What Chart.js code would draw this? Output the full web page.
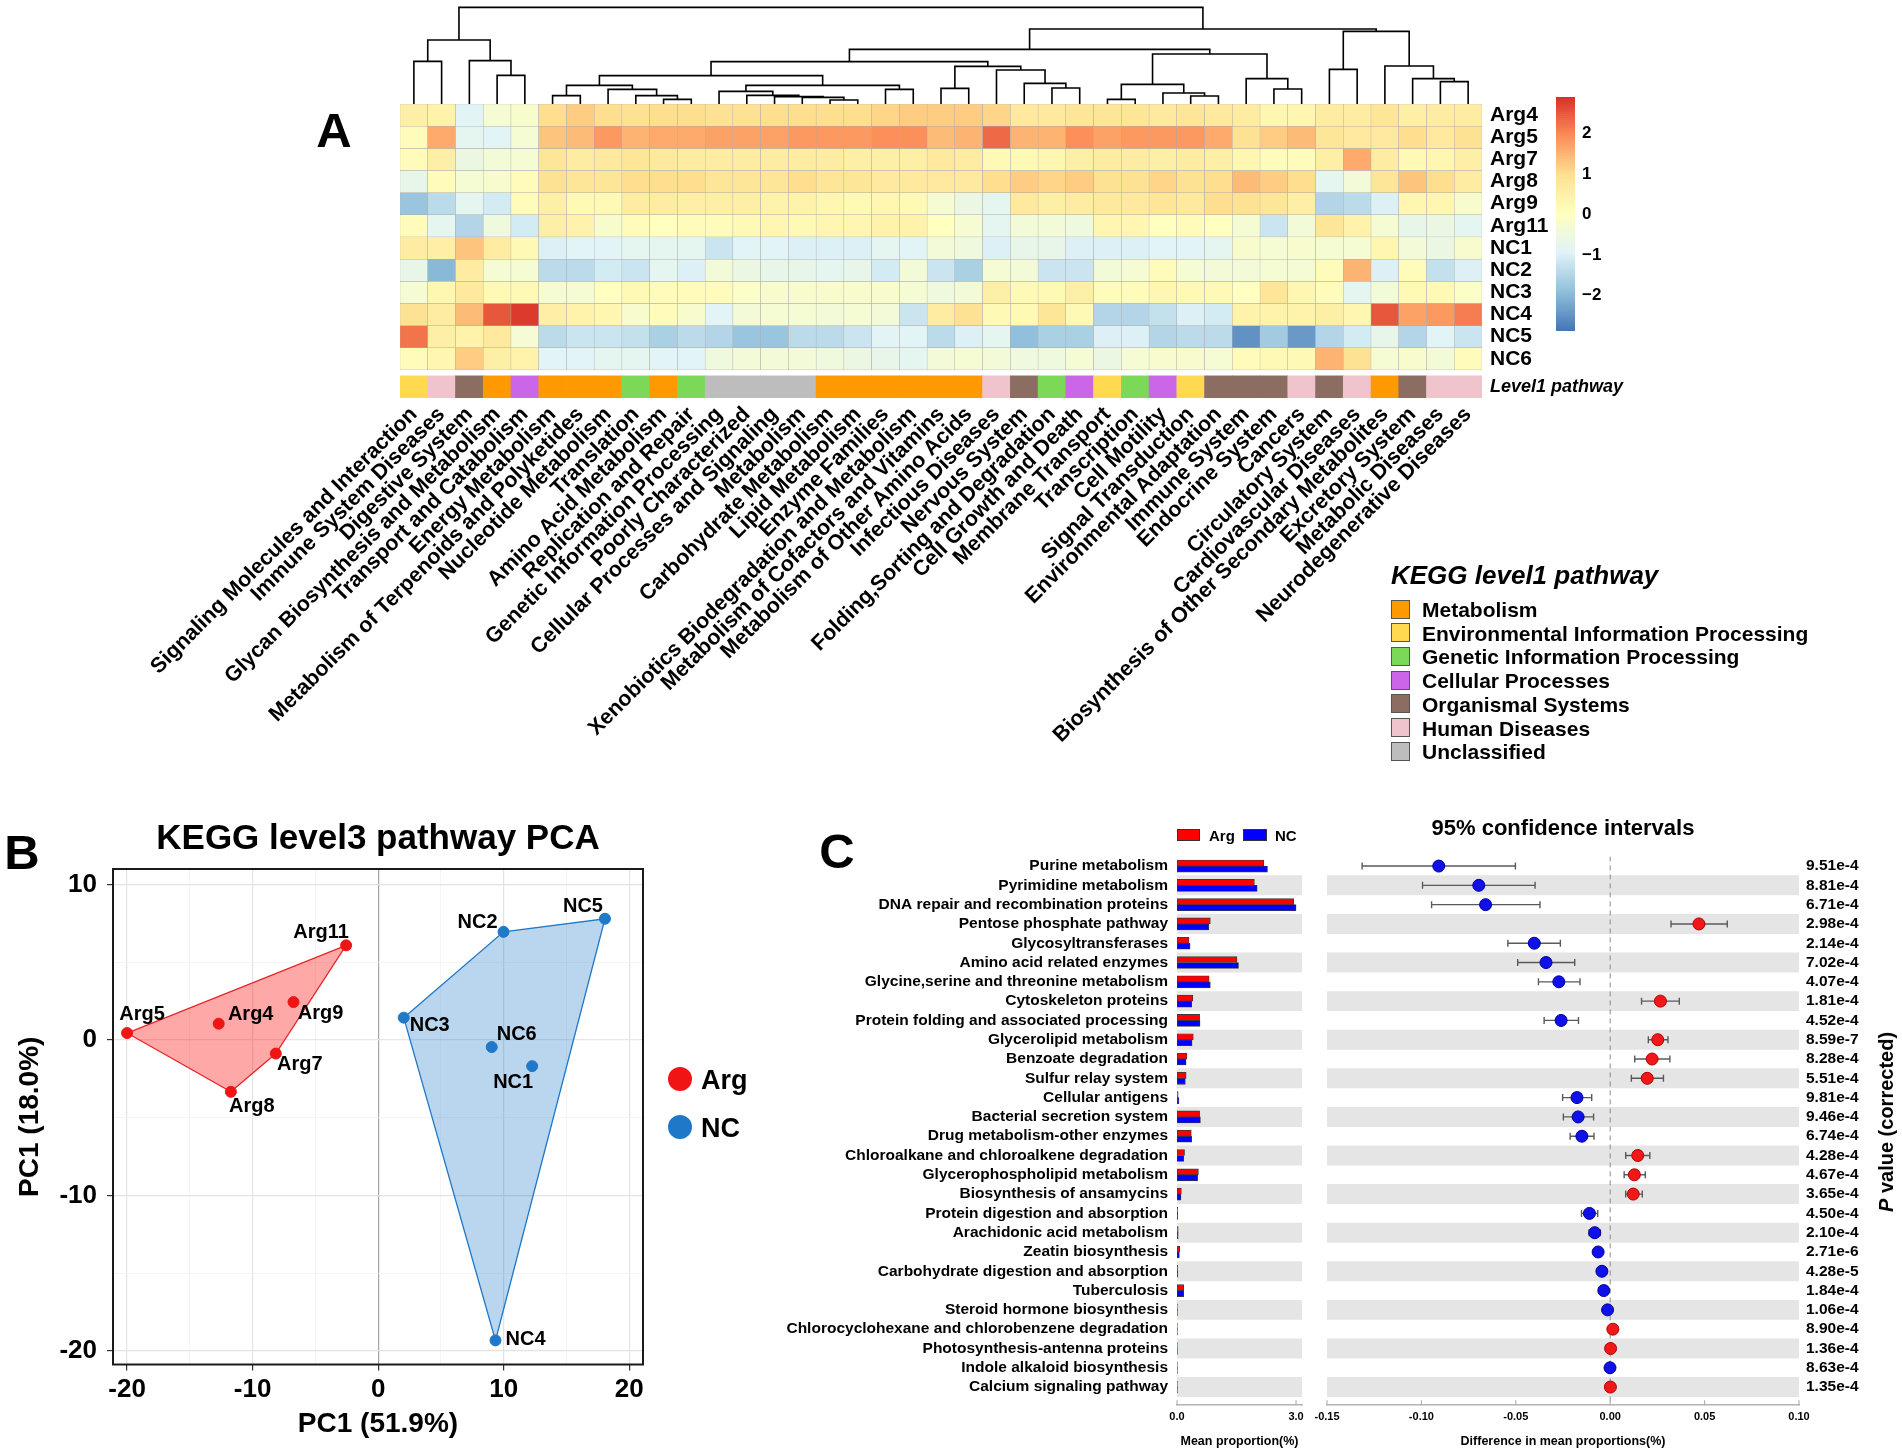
<!DOCTYPE html>
<html>
<head>
<meta charset="utf-8">
<title>KEGG pathway figure</title>
<script src="https://cdn.jsdelivr.net/npm/chart.js@4.4.1/dist/chart.umd.min.js"></script>
<style>
  html, body { margin: 0; padding: 0; background: #fff; }
  #page { position: relative; width: 1902px; height: 1455px; overflow: hidden;
          font-family: "Liberation Sans", Arial, Helvetica, sans-serif; color: #000; }
  #page canvas { position: absolute; left: 0; top: 0; }
  .lbl { position: absolute; font-weight: bold; white-space: nowrap; line-height: 1; }
  .mid { transform: translate(-50%, -50%); }
  .lft { transform: translateY(-50%); }
  .box { position: absolute; box-sizing: border-box; }
</style>
</head>
<body>
<div id="page">
  <canvas id="cDendro" width="1902" height="1455"></canvas>
  <canvas id="cHeat" width="1902" height="1455"></canvas>
  <canvas id="cScale" width="1902" height="1455"></canvas>
  <canvas id="cPca" width="1902" height="1455"></canvas>
  <canvas id="cMean" width="1902" height="1455"></canvas>
  <canvas id="cDiff" width="1902" height="1455"></canvas>

  <div class="lbl mid" style="left:334px;top:130px;font-size:49px;">A</div>
  <div class="lbl mid" style="left:22px;top:852px;font-size:49px;">B</div>
  <div class="lbl mid" style="left:837px;top:851px;font-size:49px;">C</div>

  <div class="lbl lft" style="left:1391px;top:575px;font-size:26px;font-style:italic;">KEGG level1 pathway</div>
  <div id="keggLegend"></div>

  <div class="lbl mid" style="left:378px;top:836px;font-size:35px;">KEGG level3 pathway PCA</div>
  <div class="box" style="left:668px;top:1067px;width:24px;height:24px;border-radius:50%;background:#F01414;"></div>
  <div class="lbl lft" style="left:701px;top:1080px;font-size:27px;">Arg</div>
  <div class="box" style="left:668px;top:1115px;width:24px;height:24px;border-radius:50%;background:#1F78C8;"></div>
  <div class="lbl lft" style="left:701px;top:1128px;font-size:27px;">NC</div>

  <div class="box" style="left:1177px;top:829px;width:23px;height:12px;background:#FF0000;border:1px solid #333;"></div>
  <div class="lbl lft" style="left:1209px;top:835px;font-size:15px;">Arg</div>
  <div class="box" style="left:1243px;top:829px;width:24px;height:12px;background:#0000FF;border:1px solid #333;"></div>
  <div class="lbl lft" style="left:1275px;top:835px;font-size:15px;">NC</div>

  <div class="lbl mid" style="left:1563px;top:828px;font-size:22px;">95% confidence intervals</div>
  <div class="lbl" style="left:1886px;top:1122px;font-size:20px;transform:translate(-50%,-50%) rotate(-90deg);"><i>P</i> value (corrected)</div>
</div>

<script>
// ---------- panel A: heatmap of KEGG level2 pathways ----------
const SAMPLES = ['Arg4', 'Arg5', 'Arg7', 'Arg8', 'Arg9', 'Arg11', 'NC1', 'NC2', 'NC3', 'NC4', 'NC5', 'NC6'];

const PATHWAYS_L2 = [
  'Signaling Molecules and Interaction', 'Immune System Diseases', 'Digestive System',
  'Glycan Biosynthesis and Metabolism', 'Transport and Catabolism', 'Energy Metabolism',
  'Metabolism of Terpenoids and Polyketides', 'Nucleotide Metabolism', 'Translation',
  'Amino Acid Metabolism', 'Replication and Repair', 'Genetic Information Processing',
  'Poorly Characterized', 'Cellular Processes and Signaling', 'Metabolism',
  'Carbohydrate Metabolism', 'Lipid Metabolism', 'Enzyme Families',
  'Xenobiotics Biodegradation and Metabolism', 'Metabolism of Cofactors and Vitamins',
  'Metabolism of Other Amino Acids', 'Infectious Diseases', 'Nervous System',
  'Folding,Sorting and Degradation', 'Cell Growth and Death', 'Membrane Transport',
  'Transcription', 'Cell Motility', 'Signal Transduction', 'Environmental Adaptation',
  'Immune System', 'Endocrine System', 'Cancers', 'Circulatory System',
  'Cardiovascular Diseases', 'Biosynthesis of Other Secondary Metabolites',
  'Excretory System', 'Metabolic Diseases', 'Neurodegenerative Diseases'
];

const L1_NAMES = ['Metabolism', 'Environmental Information Processing', 'Genetic Information Processing',
  'Cellular Processes', 'Organismal Systems', 'Human Diseases', 'Unclassified'];
const L1_COLORS = ['#FF9900', '#FFD94F', '#7BD957', '#CB66E8', '#8C6D61', '#F0C4CC', '#BDBDBD'];
// level1 class of each column (index into L1_NAMES)
const PATHWAY_L1 = [1, 5, 4, 0, 3, 0, 0, 0, 2, 0, 2, 6, 6, 6, 6, 0, 0, 0, 0, 0, 0,
  5, 4, 2, 3, 1, 2, 3, 1, 4, 4, 4, 5, 4, 5, 0, 4, 5, 5];

// row z-scores, one row per sample, columns in PATHWAYS_L2 order
const Z_SCORES = [
  [0.5, 0.4, -0.9, -0.3, -0.2, 1.0, 1.2, 1.0, 0.9, 1.0, 1.0, 0.9, 0.9, 1.0, 1.0, 1.0, 1.0, 1.1, 1.2, 1.2, 1.2, 1.1, 0.7, 0.7, 0.8, 0.8, 0.8, 0.7, 0.8, 0.7, 0.6, 0.3, 0.3, 0.6, 0.6, 0.8, 0.5, 0.6, 0.6],           // Arg4
  [0.1, 1.6, -0.8, -0.9, -0.3, 1.3, 1.4, 1.8, 1.5, 1.6, 1.6, 1.7, 1.7, 1.7, 1.8, 1.8, 1.8, 1.9, 1.9, 1.4, 1.5, 2.3, 1.5, 1.5, 1.9, 1.7, 1.8, 1.8, 1.8, 1.6, 0.9, 1.2, 1.4, 0.8, 0.7, 0.7, 1.0, 0.7, 0.9],            // Arg5
  [0.1, 0.5, -0.6, -0.4, -0.3, 0.8, 0.6, 0.7, 0.8, 0.7, 0.6, 0.6, 0.6, 0.6, 0.6, 0.6, 0.5, 0.5, 0.5, 0.7, 0.6, 0.2, 0.2, 0.3, 0.5, 0.6, 0.6, 0.5, 0.6, 0.5, 0.3, 0.1, 0.1, 0.5, 1.6, 0.6, 0.2, 0.3, 0.5],            // Arg7
  [-0.7, 0.1, -0.3, -0.2, 0.1, 0.9, 0.8, 0.8, 1.0, 1.0, 1.0, 0.8, 0.8, 0.8, 1.0, 0.8, 0.8, 0.7, 0.7, 0.7, 0.7, 1.0, 1.2, 1.1, 1.2, 0.9, 0.9, 1.1, 0.9, 1.0, 1.4, 1.2, 1.0, -0.8, -0.4, 0.8, 1.3, 1.0, 0.6],         // Arg8
  [-1.8, -1.4, -0.8, -1.1, 0.1, 0.5, 0.2, 0.2, 0.6, 0.6, 0.5, 0.5, 0.5, 0.4, 0.4, 0.3, 0.2, 0.3, 0.2, -0.3, -0.6, -0.8, 0.7, 0.5, 0.6, 0.7, 0.7, 0.8, 0.7, 1.0, 0.9, 0.8, 0.5, -1.5, -1.4, -1.0, 0.3, 0.3, -0.2], // Arg9
  [0.1, -0.8, -1.5, -0.5, -1.1, 0.5, 0.4, -0.2, 0.1, 0.0, 0.1, 0.1, 0.2, 0.3, 0.2, 0.3, 0.3, 0.4, 0.4, 0.0, -0.3, -0.8, -0.4, -0.4, -0.5, 0.3, 0.3, 0.0, 0.1, 0.0, -0.3, -1.2, -0.4, 0.8, 0.4, -0.3, -0.7, -0.6, -0.8], // Arg11
  [0.6, 0.5, 1.3, 0.6, 0.2, -1.0, -0.9, -0.9, -0.8, -0.8, -0.8, -1.2, -0.9, -0.9, -1.0, -1.0, -1.0, -0.8, -0.9, -0.4, -0.5, -1.0, -0.7, -0.7, -1.0, -1.0, -1.0, -0.9, -0.9, -0.8, -0.2, -0.3, -0.2, -0.3, -0.3, 0.3, -0.4, -0.6, -0.2], // NC1
  [-0.7, -2.0, 0.6, -0.3, -0.3, -1.4, -1.4, -1.1, -1.2, -0.8, -1.0, -0.4, -0.6, -0.7, -0.7, -0.8, -0.7, -1.1, -0.4, -1.2, -1.6, -0.3, -0.4, -1.2, -1.2, -0.4, -0.3, 0.1, -0.3, -0.4, -0.4, -0.3, -0.3, 0.1, 1.5, -1.0, 0.1, -1.3, -1.0], // NC2
  [-0.3, 0.3, 0.7, 0.2, 0.2, -0.3, -0.3, 0.0, 0.2, 0.1, 0.1, 0.1, -0.1, -0.2, -0.2, -0.2, -0.2, -0.2, -0.3, -0.5, -0.4, 0.5, 0.2, 0.2, 0.5, 0.1, 0.1, 0.3, 0.2, 0.2, 0.0, 0.8, 0.3, 0.1, -0.8, -0.4, 0.2, 0.2, -0.1], // NC3
  [0.9, 0.6, 1.4, 2.5, 2.8, 0.5, 0.4, 0.3, -0.2, 0.1, -0.2, -0.9, -0.4, -0.3, -0.3, -0.4, -0.3, -0.4, -1.2, 0.6, 0.9, 0.2, 0.2, 0.8, 0.2, -1.5, -1.5, -1.3, -1.0, -1.1, 0.4, 0.4, 0.4, 0.5, 0.3, 2.5, 1.7, 1.8, 2.1], // NC4
  [2.2, 0.5, 0.4, 0.7, -0.3, -1.4, -1.2, -1.2, -1.3, -1.6, -1.4, -1.5, -1.8, -1.8, -1.4, -1.4, -1.2, -0.9, -0.9, -1.4, -1.0, -0.8, -1.9, -1.6, -1.6, -1.0, -1.0, -1.5, -1.4, -1.4, -2.5, -1.7, -2.4, -1.5, -1.1, -0.7, -1.5, -0.9, -1.2], // NC5
  [0.1, 0.3, 1.2, 0.5, 0.4, -0.9, -0.9, -0.8, -0.8, -0.9, -0.9, -0.5, -0.4, -0.4, -0.4, -0.5, -0.6, -0.7, -0.8, -0.4, -0.3, -0.4, -0.5, -0.5, -0.3, -0.6, -0.3, -0.2, -0.2, -0.3, 0.1, 0.2, 0.2, 1.5, 0.9, -0.3, -0.2, -0.4, 0.1]  // NC6
];

// column dendrogram, hclust style: negative = leaf (column number), positive = earlier merge
const COL_MERGES = [
  [-1, -2, 128], [-4, -5, 86], [-3, 2, 130], [1, 3, 192],
  [-6, -7, 25], [-10, -11, 14], [-9, 6, 25], [-8, 7, 44], [5, 8, 56],
  [-16, -17, 12], [-15, 10, 20], [-14, 11, 22], [-13, 12, 26], [-12, 13, 38],
  [-18, -19, 44], [14, 15, 56], [9, 16, 85],
  [-20, -21, 47], [-24, -25, 48], [-23, 19, 62], [-22, 20, 102], [18, 21, 113], [17, 22, 127],
  [-26, -27, 14], [-29, -30, 24], [-28, 25, 33], [24, 26, 59], [-32, -33, 45], [-31, 28, 76], [27, 29, 150],
  [23, 30, 164], [-34, -35, 104], [-38, -39, 67], [-37, 33, 76], [-36, 34, 114], [32, 35, 218],
  [31, 36, 225], [4, 37, 290]
];

const HEAT_STOPS = ['#4575B4', '#91BFDB', '#E0F3F8', '#FFFFBF', '#FEE090', '#FC8D59', '#D73027'];
const HEAT_MIN = -2.87, HEAT_MAX = 2.9;
const HEAT_TICKS = [-2, -1, 0, 1, 2];

// ---------- panel B: PCA ----------
const PC1 = [-12.7, -20.0, -8.15, -11.73, -6.74, -2.55, 12.27, 9.99, 2.04, 9.35, 18.07, 9.05];
const PC2 = [1.05, 0.45, -0.87, -3.33, 2.44, 6.09, -1.68, 6.96, 1.44, -19.32, 7.8, -0.45];
// label placement around each point, px
const LABEL_NUDGE = [[32, -9], [15, -19], [24, 11], [21, 15], [27, 11], [-25, -13],
  [-19, 16], [-26, -9], [26, 8], [30, -1], [-22, -12], [25, -13]];

// ---------- panel C: STAMP comparison ----------
const C_PATHWAYS = [
  'Purine metabolism', 'Pyrimidine metabolism', 'DNA repair and recombination proteins',
  'Pentose phosphate pathway', 'Glycosyltransferases', 'Amino acid related enzymes',
  'Glycine,serine and threonine metabolism', 'Cytoskeleton proteins',
  'Protein folding and associated processing', 'Glycerolipid metabolism', 'Benzoate degradation',
  'Sulfur relay system', 'Cellular antigens', 'Bacterial secretion system',
  'Drug metabolism-other enzymes', 'Chloroalkane and chloroalkene degradation',
  'Glycerophospholipid metabolism', 'Biosynthesis of ansamycins', 'Protein digestion and absorption',
  'Arachidonic acid metabolism', 'Zeatin biosynthesis', 'Carbohydrate digestion and absorption',
  'Tuberculosis', 'Steroid hormone biosynthesis', 'Chlorocyclohexane and chlorobenzene degradation',
  'Photosynthesis-antenna proteins', 'Indole alkaloid biosynthesis', 'Calcium signaling pathway'
];
const ARG_MEAN = [2.19, 1.95, 2.94, 0.84, 0.30, 1.51, 0.81, 0.40, 0.57, 0.41, 0.25, 0.23, 0.03, 0.57,
  0.36, 0.19, 0.54, 0.11, 0.02, 0.03, 0.07, 0.02, 0.17, 0.01, 0.01, 0.01, 0.01, 0.01];
const NC_MEAN = [2.28, 2.02, 3.00, 0.80, 0.33, 1.55, 0.84, 0.37, 0.58, 0.38, 0.23, 0.21, 0.05, 0.59,
  0.37, 0.17, 0.52, 0.10, 0.02, 0.03, 0.06, 0.02, 0.17, 0.01, 0.01, 0.01, 0.01, 0.01];
const DIFF = [-0.0908, -0.0696, -0.066, 0.047, -0.0402, -0.034, -0.0272, 0.0266, -0.026, 0.0252, 0.0222,
  0.0196, -0.0176, -0.017, -0.015, 0.0146, 0.0128, 0.0122, -0.011, -0.0082, -0.0064, -0.0044, -0.0034,
  -0.0014, 0.0014, 0.0002, -0.0001, 0.0001];
const CI_LO = [-0.1314, -0.0994, -0.0946, 0.0322, -0.0542, -0.049, -0.038, 0.0166, -0.035, 0.0202, 0.013,
  0.0112, -0.0252, -0.0248, -0.0212, 0.0082, 0.0074, 0.0082, -0.0152, -0.0112, -0.0074, -0.0052, -0.004,
  -0.0018, 0.001, -0.0002, -0.0004, -0.0002];
const CI_HI = [-0.0502, -0.0398, -0.0372, 0.062, -0.0264, -0.0188, -0.016, 0.0366, -0.0168, 0.0306, 0.0316,
  0.0282, -0.0098, -0.0088, -0.0086, 0.021, 0.0186, 0.017, -0.0066, -0.0052, -0.0054, -0.0036, -0.0028,
  -0.001, 0.0018, 0.0006, 0.0002, 0.0004];
const P_VALUES = ['9.51e-4', '8.81e-4', '6.71e-4', '2.98e-4', '2.14e-4', '7.02e-4', '4.07e-4', '1.81e-4',
  '4.52e-4', '8.59e-7', '8.28e-4', '5.51e-4', '9.81e-4', '9.46e-4', '6.74e-4', '4.28e-4', '4.67e-4',
  '3.65e-4', '4.50e-4', '2.10e-4', '2.71e-6', '4.28e-5', '1.84e-4', '1.06e-4', '8.90e-4', '1.36e-4',
  '8.63e-4', '1.35e-4'];
const MEAN_TICKS = [0, 3];
const DIFF_TICKS = [-3, -2, -1, 0, 1, 2].map(k => k * 0.05);

// ---------- helpers ----------
const PAGE_W = 1902, PAGE_H = 1455;
const FONT = '"Liberation Sans", Arial, Helvetica, sans-serif';
Chart.defaults.font.family = FONT;
Chart.defaults.color = '#000';

const BASE = {
  responsive: false,
  animation: false,
  events: [],
  plugins: { legend: { display: false }, tooltip: { enabled: false } }
};

// layout padding so the chart area lands on [left, top, right, bottom]
function pad(area, ax) {
  return {
    left: area[0] - (ax.left || 0),
    top: area[1] - (ax.top || 0),
    right: PAGE_W - area[2] - (ax.right || 0),
    bottom: PAGE_H - area[3] - (ax.bottom || 0)
  };
}
const fixW = w => s => { s.width = w; s.paddingTop = 0; s.paddingBottom = 0; };
const fixH = h => s => { s.height = h; s.paddingLeft = 0; s.paddingRight = 0; };
const setTicks = vals => s => { s.ticks = vals.map(v => ({ value: v })); };

function hexRgb(h) {
  return [1, 3, 5].map(i => parseInt(h.slice(i, i + 2), 16));
}
function heatColor(v) {
  let t = (v - HEAT_MIN) / (HEAT_MAX - HEAT_MIN);
  t = Math.max(0, Math.min(1, t));
  const p = t * (HEAT_STOPS.length - 1);
  const i = Math.min(HEAT_STOPS.length - 2, Math.floor(p));
  const f = p - i;
  const a = hexRgb(HEAT_STOPS[i]), b = hexRgb(HEAT_STOPS[i + 1]);
  const c = a.map((x, k) => Math.round(x + (b[k] - x) * f));
  return `rgb(${c[0]},${c[1]},${c[2]})`;
}

// ---------- A: dendrogram ----------
function dendroLinks() {
  const pos = {}, hgt = {};
  const node = k => (k < 0 ? { x: -k - 0.5, h: 0 } : { x: pos[k], h: hgt[k] });
  return COL_MERGES.map(([a, b, h], i) => {
    const A = node(a), B = node(b);
    pos[i + 1] = (A.x + B.x) / 2;
    hgt[i + 1] = h;
    return [{ x: A.x, y: A.h }, { x: A.x, y: h }, { x: B.x, y: h }, { x: B.x, y: B.h }];
  });
}

new Chart(document.getElementById('cDendro'), {
  type: 'scatter',
  data: {
    datasets: dendroLinks().map(pts => ({
      data: pts, showLine: true, borderColor: '#000', borderWidth: 1.6, pointRadius: 0
    }))
  },
  options: {
    ...BASE,
    layout: { padding: pad([400, 0, 1482, 104], {}) },
    scales: {
      x: { type: 'linear', min: 0, max: PATHWAYS_L2.length, display: false },
      y: { type: 'linear', min: 0, max: 312, display: false }
    }
  }
});

// ---------- A: heatmap + level1 bar ----------
const GAP = 0.27;
const heatSets = Z_SCORES.map((row, r) => ({
  label: SAMPLES[r],
  data: row.map(() => [r, r + 1]),
  backgroundColor: row.map(heatColor),
  borderColor: '#ababab',
  borderWidth: 0.5,
  borderSkipped: false,
  grouped: false, categoryPercentage: 1, barPercentage: 1
}));
heatSets.push({
  label: 'Level1 pathway',
  data: PATHWAY_L1.map(() => [SAMPLES.length + GAP, SAMPLES.length + 1 + GAP]),
  backgroundColor: PATHWAY_L1.map(k => L1_COLORS[k]),
  borderWidth: 0,
  grouped: false, categoryPercentage: 1, barPercentage: 1
});
const heatTickVals = SAMPLES.map((_, i) => i + 0.5).concat([SAMPLES.length + GAP + 0.5]);

new Chart(document.getElementById('cHeat'), {
  type: 'bar',
  data: { labels: PATHWAYS_L2, datasets: heatSets },
  options: {
    ...BASE,
    layout: { padding: pad([400, 104, 1482, 398], { right: 200, bottom: 440 }) },
    scales: {
      x: {
        type: 'category',
        afterFit: fixH(440),
        ticks: { autoSkip: false, minRotation: 45, maxRotation: 45, padding: 4,
                 font: { size: 21.5, weight: 'bold' }, color: '#000' },
        grid: { display: false, drawTicks: false },
        border: { display: false }
      },
      y: {
        type: 'linear', position: 'right', reverse: true, bounds: 'data', offset: false,
        min: 0, max: SAMPLES.length + 1 + GAP,
        afterBuildTicks: setTicks(heatTickVals),
        afterFit: fixW(200),
        ticks: {
          autoSkip: false, padding: 8, color: '#000',
          callback: (v, i) => (i < SAMPLES.length ? SAMPLES[i] : 'Level1 pathway'),
          font: c => (c.index < SAMPLES.length
            ? { size: 21, weight: 'bold' }
            : { size: 18, weight: 'bold', style: 'italic' })
        },
        grid: { display: false, drawTicks: false },
        border: { display: false }
      }
    }
  }
});

// ---------- A: colour key ----------
const KEY_STEPS = 120;
const keySets = Array.from({ length: KEY_STEPS }, (_, k) => {
  const v0 = HEAT_MIN + (HEAT_MAX - HEAT_MIN) * k / KEY_STEPS;
  const v1 = HEAT_MIN + (HEAT_MAX - HEAT_MIN) * (k + 1) / KEY_STEPS;
  return { data: [[v0, v1]], backgroundColor: heatColor((v0 + v1) / 2), borderWidth: 0,
           grouped: false, categoryPercentage: 1, barPercentage: 1 };
});

new Chart(document.getElementById('cScale'), {
  type: 'bar',
  data: { labels: [''], datasets: keySets },
  options: {
    ...BASE,
    layout: { padding: pad([1556, 97, 1575, 331], { right: 60 }) },
    scales: {
      x: { display: false },
      y: {
        type: 'linear', position: 'right', min: HEAT_MIN, max: HEAT_MAX, bounds: 'data',
        afterBuildTicks: setTicks(HEAT_TICKS),
        afterFit: fixW(60),
        ticks: { padding: 7, color: '#000', font: { size: 17, weight: 'bold' },
                 callback: v => (v < 0 ? '\u2212' + Math.abs(v) : String(v)) },
        grid: { display: false, drawTicks: false },
        border: { display: false }
      }
    }
  }
});

// level1 legend
(function () {
  const host = document.getElementById('keggLegend');
  L1_NAMES.forEach((name, i) => {
    const cy = 609 + i * 23.7;
    const sw = document.createElement('div');
    sw.className = 'box';
    sw.style.cssText = `left:1391px;top:${cy - 9.5}px;width:19px;height:19px;background:${L1_COLORS[i]};border:1px solid #555;`;
    host.appendChild(sw);
    const t = document.createElement('div');
    t.className = 'lbl lft';
    t.style.cssText = `left:1422px;top:${cy}px;font-size:21px;`;
    t.textContent = name;
    host.appendChild(t);
  });
})();

// ---------- B: PCA ----------
function convexHull(pts) {
  const p = pts.slice().sort((a, b) => a.x - b.x || a.y - b.y);
  const cross = (o, a, b) => (a.x - o.x) * (b.y - o.y) - (a.y - o.y) * (b.x - o.x);
  const lower = [], upper = [];
  for (const q of p) {
    while (lower.length >= 2 && cross(lower[lower.length - 2], lower[lower.length - 1], q) <= 0) lower.pop();
    lower.push(q);
  }
  for (const q of p.slice().reverse()) {
    while (upper.length >= 2 && cross(upper[upper.length - 2], upper[upper.length - 1], q) <= 0) upper.pop();
    upper.push(q);
  }
  upper.pop(); lower.pop();
  const h = lower.concat(upper);
  h.push(h[0]);
  return h;
}

const pcaPts = SAMPLES.map((s, i) => ({ x: PC1[i], y: PC2[i], arg: s.startsWith('Arg') }));
const argPts = pcaPts.filter(p => p.arg);
const ncPts = pcaPts.filter(p => !p.arg);

const isMajor = v => v % 10 === 0;
const pcaGrid = zeroColor => ({
  color: c => (c.tick.value === 0 ? zeroColor : (isMajor(c.tick.value) ? '#E3E3E3' : '#F1F1F1')),
  lineWidth: c => (isMajor(c.tick.value) ? 1.2 : 0.7),
  tickColor: c => (isMajor(c.tick.value) ? '#333' : 'rgba(0,0,0,0)'),
  tickLength: 6,
  tickWidth: 1.2
});

const framePlugin = {
  id: 'frame',
  afterDraw(chart) {
    const { ctx, chartArea: a } = chart;
    ctx.save();
    ctx.strokeStyle = '#1a1a1a';
    ctx.lineWidth = 2;
    ctx.strokeRect(a.left, a.top, a.width, a.height);
    ctx.restore();
  }
};
const pcaLabels = {
  id: 'pcaLabels',
  afterDatasetsDraw(chart) {
    const { ctx, scales: { x, y } } = chart;
    ctx.save();
    ctx.font = `bold 20px ${FONT}`;
    ctx.fillStyle = '#000';
    ctx.textAlign = 'center';
    ctx.textBaseline = 'middle';
    SAMPLES.forEach((s, i) => {
      const [dx, dy] = LABEL_NUDGE[i];
      ctx.fillText(s, x.getPixelForValue(PC1[i]) + dx, y.getPixelForValue(PC2[i]) + dy);
    });
    ctx.restore();
  }
};

new Chart(document.getElementById('cPca'), {
  type: 'scatter',
  data: {
    datasets: [
      { data: argPts, pointRadius: 5.5, pointBackgroundColor: '#F01414', pointBorderColor: '#F01414', order: 0 },
      { data: ncPts, pointRadius: 5.5, pointBackgroundColor: '#1F78C8', pointBorderColor: '#1F78C8', order: 0 },
      { type: 'line', data: convexHull(argPts), fill: 'shape', backgroundColor: 'rgba(255,0,0,0.34)',
        borderColor: '#E8262A', borderWidth: 1.3, pointRadius: 0, tension: 0, order: 2 },
      { type: 'line', data: convexHull(ncPts), fill: 'shape', backgroundColor: 'rgba(31,120,200,0.31)',
        borderColor: '#1F78C8', borderWidth: 1.3, pointRadius: 0, tension: 0, order: 2 }
    ]
  },
  options: {
    ...BASE,
    layout: { padding: pad([113, 869, 643, 1364.5], { left: 103, bottom: 77 }) },
    scales: {
      x: {
        type: 'linear', min: -21.12, max: 21.1, bounds: 'data',
        afterBuildTicks: setTicks([-20, -15, -10, -5, 0, 5, 10, 15, 20]),
        afterFit: fixH(77),
        ticks: { autoSkip: false, maxRotation: 0, padding: 4, color: '#000',
                 font: { size: 26, weight: 'bold' }, callback: v => (isMajor(v) ? String(v) : '') },
        grid: pcaGrid('#A6A6A6'),
        border: { display: false },
        title: { display: true, text: 'PC1 (51.9%)', color: '#000', padding: 0,
                 font: { size: 28, weight: 'bold' } }
      },
      y: {
        type: 'linear', min: -20.87, max: 11.0, bounds: 'data',
        afterBuildTicks: setTicks([-20, -15, -10, -5, 0, 5, 10]),
        afterFit: fixW(103),
        ticks: { autoSkip: false, padding: 10, color: '#000',
                 font: { size: 26, weight: 'bold' }, callback: v => (isMajor(v) ? String(v) : '') },
        grid: pcaGrid('#E6E6E6'),
        border: { display: false },
        title: { display: true, text: 'PC1 (18.0%)', color: '#000', padding: { top: 3 },
                 font: { size: 28, weight: 'bold' } }
      }
    }
  },
  plugins: [framePlugin, pcaLabels]
});

// ---------- C: shared row axis ----------
const ROW_MIN = -0.5, ROW_MAX = C_PATHWAYS.length - 0.5 + 0.44;
const rowIdx = C_PATHWAYS.map((_, i) => i);
const stripeRows = rowIdx.filter(i => i % 2 === 1);
const C_AREA_TOP = 856.4, C_AREA_BOTTOM = 1405.2;
const MEAN_MAX = 3.15, DIFF_MIN = -0.15, DIFF_MAX = 0.10;

// small tick marks pointing up from the bottom axis
const innerTicks = {
  id: 'innerTicks',
  afterDraw(chart) {
    const { ctx, scales: { x } } = chart;
    ctx.save();
    ctx.strokeStyle = '#b3b3b3';
    ctx.lineWidth = 1.2;
    x.ticks.forEach(t => {
      const px = x.getPixelForValue(t.value);
      ctx.beginPath();
      ctx.moveTo(px, x.top);
      ctx.lineTo(px, x.top - 5);
      ctx.stroke();
    });
    ctx.restore();
  }
};

const cXAxis = (min, max, ticks, fmt, title) => ({
  type: 'linear', min, max, bounds: 'data',
  afterBuildTicks: setTicks(ticks),
  afterFit: fixH(44.3),
  ticks: { autoSkip: false, maxRotation: 0, padding: 5, color: '#000',
           font: { size: 11, weight: 'bold' }, callback: fmt },
  grid: { display: false, drawTicks: false },
  border: { display: true, color: '#b3b3b3', width: 1.6 },
  title: { display: true, text: title, color: '#000', padding: 0, font: { size: 12.5, weight: 'bold' } }
});
const cYAxis = (position, width, labels, padding) => ({
  type: 'linear', position, reverse: true, min: ROW_MIN, max: ROW_MAX, bounds: 'data', offset: false,
  afterBuildTicks: setTicks(rowIdx),
  afterFit: fixW(width),
  ticks: { autoSkip: false, padding, color: '#000', font: { size: 15.5, weight: 'bold' },
           callback: (v, i) => labels[i] },
  grid: { display: false, drawTicks: false, offset: false },
  border: { display: false }
});

// mean proportion bars
new Chart(document.getElementById('cMean'), {
  type: 'bar',
  data: {
    datasets: [
      { label: 'Arg', data: ARG_MEAN.map((v, i) => ({ x: v, y: i })), backgroundColor: '#FF0000',
        borderColor: '#3a3a3a', borderWidth: 0.8, borderSkipped: false, barThickness: 6, order: 1 },
      { label: 'NC', data: NC_MEAN.map((v, i) => ({ x: v, y: i })), backgroundColor: '#0000FF',
        borderColor: '#3a3a3a', borderWidth: 0.8, borderSkipped: false, barThickness: 6, order: 1 },
      { label: 'band', data: stripeRows.map(i => ({ x: [0, MEAN_MAX], y: i })), backgroundColor: '#E5E5E5',
        borderWidth: 0, grouped: false, categoryPercentage: 1, barPercentage: 1, order: 9 }
    ]
  },
  options: {
    ...BASE,
    indexAxis: 'y',
    layout: { padding: pad([1177, C_AREA_TOP, 1302, C_AREA_BOTTOM], { left: 420, bottom: 44.3 }) },
    scales: {
      x: cXAxis(0, MEAN_MAX, MEAN_TICKS, v => v.toFixed(1), 'Mean proportion(%)'),
      y: cYAxis('left', 420, C_PATHWAYS, 9)
    }
  },
  plugins: [innerTicks]
});

// difference with 95% CI
const ciSets = rowIdx.map(i => ({
  type: 'line', indexAxis: 'x',
  data: [{ x: CI_LO[i], y: i }, { x: CI_HI[i], y: i }],
  borderColor: '#5a5a5a', borderWidth: 1.4,
  pointStyle: 'line', pointRotation: 90, pointRadius: 3.5,
  pointBorderColor: '#5a5a5a', pointBorderWidth: 1.4, order: 2
}));

new Chart(document.getElementById('cDiff'), {
  type: 'bar',
  data: {
    datasets: [
      { type: 'line', indexAxis: 'x', showLine: false, data: DIFF.map((d, i) => ({ x: d, y: i })),
        pointRadius: 6, pointBorderWidth: 1,
        pointBackgroundColor: DIFF.map(d => (d > 0 ? '#F01818' : '#1010E8')),
        pointBorderColor: DIFF.map(d => (d > 0 ? '#B40000' : '#00009C')), order: 0 },
      ...ciSets,
      { type: 'line', indexAxis: 'x', data: [{ x: 0, y: ROW_MIN }, { x: 0, y: ROW_MAX }],
        borderColor: '#8c8c8c', borderWidth: 1, borderDash: [5, 4], pointRadius: 0, order: 3 },
      { label: 'band', data: stripeRows.map(i => ({ x: [DIFF_MIN, DIFF_MAX], y: i })), backgroundColor: '#E5E5E5',
        borderWidth: 0, grouped: false, categoryPercentage: 1, barPercentage: 1, order: 9 }
    ]
  },
  options: {
    ...BASE,
    indexAxis: 'y',
    layout: { padding: pad([1327, C_AREA_TOP, 1799, C_AREA_BOTTOM], { right: 80, bottom: 44.3 }) },
    scales: {
      x: cXAxis(DIFF_MIN, DIFF_MAX, DIFF_TICKS, v => v.toFixed(2), 'Difference in mean proportions(%)'),
      y: cYAxis('right', 80, P_VALUES, 7)
    }
  },
  plugins: [innerTicks]
});
</script>
</body>
</html>
